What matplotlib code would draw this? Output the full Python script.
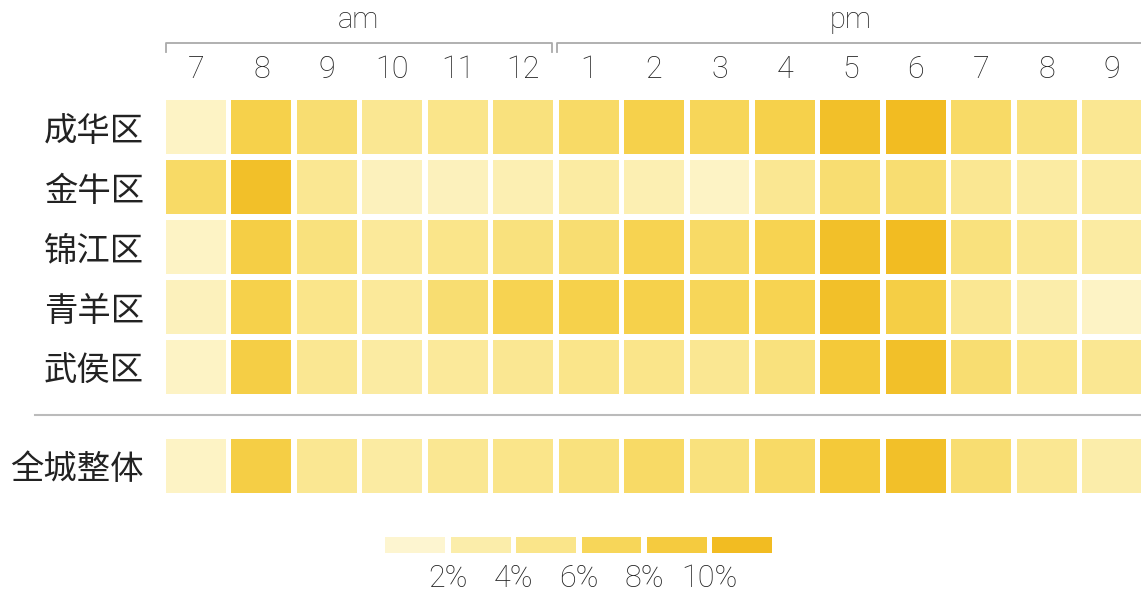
import numpy as np
import matplotlib
matplotlib.use("Agg")
import matplotlib.pyplot as plt
from matplotlib.colors import LinearSegmentedColormap
from matplotlib.patches import Rectangle

plt.rcParams['font.family'] = ['Noto Sans CJK SC', 'DejaVu Sans']

hours = ["7", "8", "9", "10", "11", "12", "1", "2", "3", "4", "5", "6", "7", "8", "9"]
districts = ["成华区", "金牛区", "锦江区", "青羊区", "武侯区"]
overall_label = "全城整体"

# share of orders per hour, %
chenghua = [1.5, 8.0, 6.0, 4.5, 5.0, 5.5, 6.5, 8.0, 7.0, 8.0, 10.5, 11.0, 6.5, 5.5, 4.5]
jinniu   = [6.5, 10.5, 4.5, 2.0, 2.0, 2.5, 3.5, 2.5, 1.5, 4.5, 6.0, 6.0, 4.5, 3.5, 3.5]
jinjiang = [1.5, 8.5, 5.5, 4.0, 5.0, 5.5, 6.0, 7.5, 6.5, 7.5, 10.5, 11.0, 5.5, 4.5, 3.5]
qingyang = [2.0, 8.0, 5.0, 4.0, 6.0, 7.5, 8.0, 8.0, 7.0, 7.5, 10.5, 8.5, 4.5, 3.0, 1.5]
wuhou    = [1.5, 8.5, 4.5, 3.5, 4.0, 4.5, 5.0, 5.0, 4.5, 5.5, 9.5, 10.5, 6.0, 5.0, 4.5]
overall  = [1.5, 8.5, 4.5, 3.5, 4.5, 5.0, 5.5, 6.5, 5.5, 6.5, 9.5, 10.5, 6.0, 4.5, 3.0]

legend_ticks = ["2%", "4%", "6%", "8%", "10%"]
legend_mid = [1, 3, 5, 7, 9, 11]

cmap = LinearSegmentedColormap.from_list(
    "gold", ["#FEF9E4", "#FCEFB3", "#FAE68E", "#F7D555", "#F4C838", "#F0B412"])
vmin, vmax = 0, 12

W, H = 1141, 592
fig = plt.figure(figsize=(W / 100, H / 100), dpi=100)
fig.patch.set_facecolor("white")

num_font = dict(family="Roboto", fontweight="light", color="#222222")
cjk_font = dict(family=["Noto Sans CJK SC", "DejaVu Sans"], fontweight="light", color="#222222")


def frac_box(x0, y0, x1, y1):
    return [x0 / W, 1 - y1 / H, (x1 - x0) / W, (y1 - y0) / H]


pitch = 65.43
x_left = 166 - (pitch - 60) / 2
x_right = x_left + pitch * len(hours)
cw, ch = 0.915, 0.9


def draw_cells(ax, rows):
    for r, row in enumerate(rows):
        for c, v in enumerate(row):
            col = cmap((v - vmin) / (vmax - vmin))
            ax.add_patch(Rectangle((c - cw / 2, r - ch / 2), cw, ch,
                                   facecolor=col, edgecolor="none"))


# district heatmap
ax = fig.add_axes(frac_box(x_left, 97, x_right, 397))
data = [chenghua, jinniu, jinjiang, qingyang, wuhou]
draw_cells(ax, data)
ax.set_xlim(-0.5, len(hours) - 0.5)
ax.set_ylim(len(districts) - 0.5, -0.5)
ax.set_yticks(range(len(districts)))
ax.set_yticklabels(districts, fontsize=24, **cjk_font)
ax.tick_params(axis="y", length=0, pad=14)
ax.xaxis.tick_top()
ax.set_xticks(range(len(hours)))
ax.set_xticklabels(hours, fontsize=22, **num_font)
ax.tick_params(axis="x", length=0, pad=9)
for s in ax.spines.values():
    s.set_visible(False)

# am / pm brackets
hdr = fig.add_axes([0, 0, 1, 1], facecolor="none")
hdr.set_xlim(0, W)
hdr.set_ylim(H, 0)
hdr.axis("off")
am_end = x_left + pitch * 6 - 4
pm_start = x_left + pitch * 6 + 1
gray = "#AAAAAA"
hdr.plot([166, 166, am_end, am_end], [52, 43, 43, 52], color=gray, lw=1.3)
hdr.plot([pm_start, pm_start, W + 5], [52, 43, 43], color=gray, lw=1.3)
hdr.text((166 + am_end) / 2, 34, "am", ha="center", va="bottom", fontsize=21, **num_font)
hdr.text((x_left + pitch * 10.5), 34, "pm", ha="center", va="bottom", fontsize=21, **num_font)
hdr.plot([35, W + 5], [415, 415], color="#BBBBBB", lw=1.5)

# overall row
ax2 = fig.add_axes(frac_box(x_left, 436, x_right, 496))
draw_cells(ax2, [overall])
ax2.set_xlim(-0.5, len(hours) - 0.5)
ax2.set_ylim(0.5, -0.5)
ax2.set_xticks([])
ax2.set_yticks([0])
ax2.set_yticklabels([overall_label], fontsize=24, **cjk_font)
ax2.tick_params(axis="y", length=0, pad=14)
for s in ax2.spines.values():
    s.set_visible(False)

# legend
lx0 = 388 - (pitch - 60) / 2
ax3 = fig.add_axes(frac_box(lx0, 537, lx0 + pitch * 6, 553))
for i, m in enumerate(legend_mid):
    ax3.add_patch(Rectangle((i, 0), 0.915, 1,
                            facecolor=cmap((m - vmin) / (vmax - vmin)), edgecolor="none"))
ax3.set_xlim(0, 6)
ax3.set_ylim(0, 1)
ax3.set_yticks([])
ax3.set_xticks([i + 0.96 for i in range(len(legend_ticks))])
ax3.set_xticklabels(legend_ticks, fontsize=22, **num_font)
ax3.tick_params(axis="x", length=0, pad=8)
for s in ax3.spines.values():
    s.set_visible(False)

fig.savefig("out.png", dpi=100, facecolor="white")
